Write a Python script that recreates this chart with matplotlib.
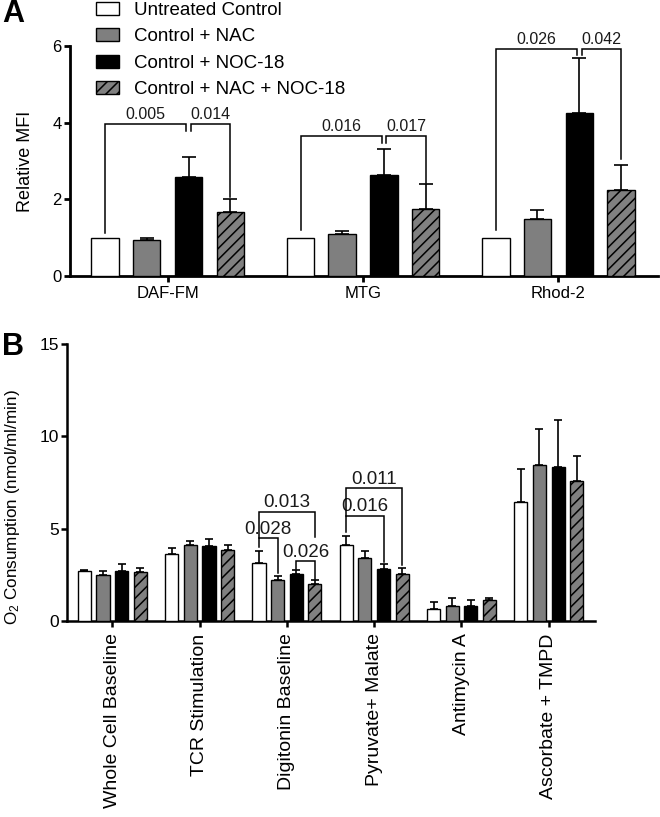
import matplotlib
matplotlib.use("Agg")
import matplotlib.pyplot as plt
import numpy as np

plt.rcParams['font.family'] = ['Liberation Sans', 'DejaVu Sans']
plt.rcParams['mathtext.fontset'] = 'custom'
plt.rcParams['mathtext.rm'] = 'Liberation Sans'
plt.rcParams['mathtext.default'] = 'regular'
plt.rcParams['hatch.linewidth'] = 1.1

# ---- data ----
series = ['Untreated Control', 'Control + NAC', 'Control + NOC-18', 'Control + NAC + NOC-18']

# panel A: relative MFI
groups_a = ['DAF-FM', 'MTG', 'Rhod-2']
mfi_untreated = [1.0, 1.0, 1.0]
mfi_untreated_err = [0.0, 0.0, 0.0]
mfi_nac = [0.94, 1.09, 1.48]
mfi_nac_err = [0.06, 0.09, 0.24]
mfi_noc = [2.59, 2.64, 4.25]
mfi_noc_err = [0.52, 0.67, 1.45]
mfi_nac_noc = [1.67, 1.75, 2.24]
mfi_nac_noc_err = [0.33, 0.64, 0.66]

# brackets: (group, bar_i, bar_j, height, leg_i_bottom, leg_j_bottom, p-value)
brackets_a = [
    (0, 0, 2, 3.96, 1.13, 3.78, '0.005'),
    (0, 2, 3, 3.96, 3.78, 2.05, '0.014'),
    (1, 0, 2, 3.65, 1.20, 3.46, '0.016'),
    (1, 2, 3, 3.65, 3.46, 2.43, '0.017'),
    (2, 0, 2, 5.92, 1.20, 5.76, '0.026'),
    (2, 2, 3, 5.92, 5.76, 3.04, '0.042'),
]

# panel B: O2 consumption
groups_b = ['Whole Cell Baseline', 'TCR Stimulation', 'Digitonin Baseline',
            'Pyruvate+ Malate', 'Antimycin A', 'Ascorbate + TMPD']
o2_untreated = [2.71, 3.61, 3.12, 4.12, 0.63, 6.45]
o2_untreated_err = [0.05, 0.36, 0.67, 0.48, 0.42, 1.78]
o2_nac = [2.48, 4.12, 2.20, 3.39, 0.83, 8.47]
o2_nac_err = [0.24, 0.23, 0.26, 0.42, 0.40, 1.93]
o2_noc = [2.72, 4.06, 2.55, 2.80, 0.83, 8.34]
o2_noc_err = [0.37, 0.36, 0.21, 0.27, 0.31, 2.55]
o2_nac_noc = [2.64, 3.85, 1.99, 2.55, 1.14, 7.58]
o2_nac_noc_err = [0.21, 0.27, 0.23, 0.34, 0.12, 1.34]

brackets_b = [
    (2, 0, 1, 4.48, 4.03, 2.60, '0.028'),
    (2, 0, 3, 5.92, 4.48, 4.55, '0.013'),
    (2, 2, 3, 3.25, 2.82, 2.28, '0.026'),
    (3, 0, 2, 5.69, 4.84, 3.21, '0.016'),
    (3, 0, 3, 7.19, 5.69, 3.03, '0.011'),
]

# ---- styles ----
offsets = [-0.32, -0.107, 0.107, 0.32]
faces = ['white', '#7f7f7f', 'black', '#808080']
hatches = [None, None, None, '///']


def draw_bars(ax, means, errs, width, capsize):
    x = np.arange(len(means[0]))
    handles = []
    for k in range(4):
        xs = x + offsets[k]
        h = ax.bar(xs, means[k], width, color=faces[k], edgecolor='black',
                   linewidth=1.0, hatch=hatches[k], zorder=3)
        handles.append(h)
        e = np.array(errs[k])
        m = e > 0
        if m.any():
            ax.errorbar(xs[m], np.array(means[k])[m],
                        yerr=[np.zeros(m.sum()), e[m]], fmt='none',
                        ecolor='black', elinewidth=1.2, capsize=capsize,
                        capthick=1.2, zorder=2)
    return handles


def draw_brackets(ax, brackets, text_dy, fs, inner=0.0):
    for g, i, j, y, yi, yj, lab in brackets:
        xi = g + offsets[i]
        xj = g + offsets[j]
        if inner:
            if j == 2:
                xj -= inner
            if i == 2:
                xi += inner
        ax.plot([xi, xi, xj, xj], [yi, y, y, yj], color='black', lw=1.1,
                zorder=4, solid_joinstyle='miter')
        ax.text((xi + xj) / 2, y + text_dy, lab, ha='center', va='baseline',
                fontsize=fs, color='#1a1a1a')


def style_axes(ax, lw):
    ax.spines['top'].set_visible(False)
    ax.spines['right'].set_visible(False)
    ax.spines['left'].set_linewidth(lw)
    ax.spines['bottom'].set_linewidth(lw)
    ax.tick_params(axis='both', direction='out', length=4, width=lw)


fig = plt.figure(figsize=(6.6, 8.17), dpi=100)

# ---- panel A ----
axA = fig.add_axes([70 / 660, 1 - 276 / 817, 588 / 660, 230 / 817])
handles = draw_bars(axA,
                    [mfi_untreated, mfi_nac, mfi_noc, mfi_nac_noc],
                    [mfi_untreated_err, mfi_nac_err, mfi_noc_err, mfi_nac_noc_err],
                    0.14, 5)
draw_brackets(axA, brackets_a, 0.13, 11.5, inner=0.012)
style_axes(axA, 2.0)
axA.set_xlim(-0.5, 2.51)
axA.set_ylim(0, 6)
axA.set_yticks([0, 2, 4, 6])
axA.set_xticks(range(len(groups_a)))
axA.set_xticklabels(groups_a, fontsize=12)
axA.tick_params(axis='y', labelsize=12, pad=2)
axA.tick_params(axis='x', pad=3)
axA.set_ylabel('Relative MFI', fontsize=13)
axA.yaxis.set_label_coords(-0.062, 0.5)

fig.legend(handles, series, loc='upper left', bbox_to_anchor=(96 / 660, 0.998),
           frameon=False, fontsize=13.5, handlelength=1.25, handleheight=0.7,
           handletextpad=0.75, labelspacing=0.5, borderpad=0, borderaxespad=0)

# ---- panel B ----
axB = fig.add_axes([67 / 660, 1 - 621 / 817, 528 / 660, 277 / 817])
draw_bars(axB,
          [o2_untreated, o2_nac, o2_noc, o2_nac_noc],
          [o2_untreated_err, o2_nac_err, o2_noc_err, o2_nac_noc_err],
          0.15, 3)
draw_brackets(axB, brackets_b, 0.24, 13.5)
style_axes(axB, 1.8)
axB.set_xlim(-0.52, 5.53)
axB.set_ylim(0, 15)
axB.set_yticks([0, 5, 10, 15])
axB.set_xticks(range(len(groups_b)))
axB.set_xticklabels(groups_b, rotation=90, fontsize=14)
axB.tick_params(axis='y', labelsize=12.5, pad=2)
axB.tick_params(axis='x', pad=5)
axB.set_ylabel('O$_2$ Consumption (nmol/ml/min)', fontsize=12.3)
axB.yaxis.set_label_coords(-0.085, 0.41)

fig.text(2 / 660, 1 - 22 / 817, 'A', fontsize=22, fontweight='bold', va='baseline')
fig.text(2 / 660, 1 - 355 / 817, 'B', fontsize=22, fontweight='bold', va='baseline')

fig.savefig('out.png', dpi=100)
